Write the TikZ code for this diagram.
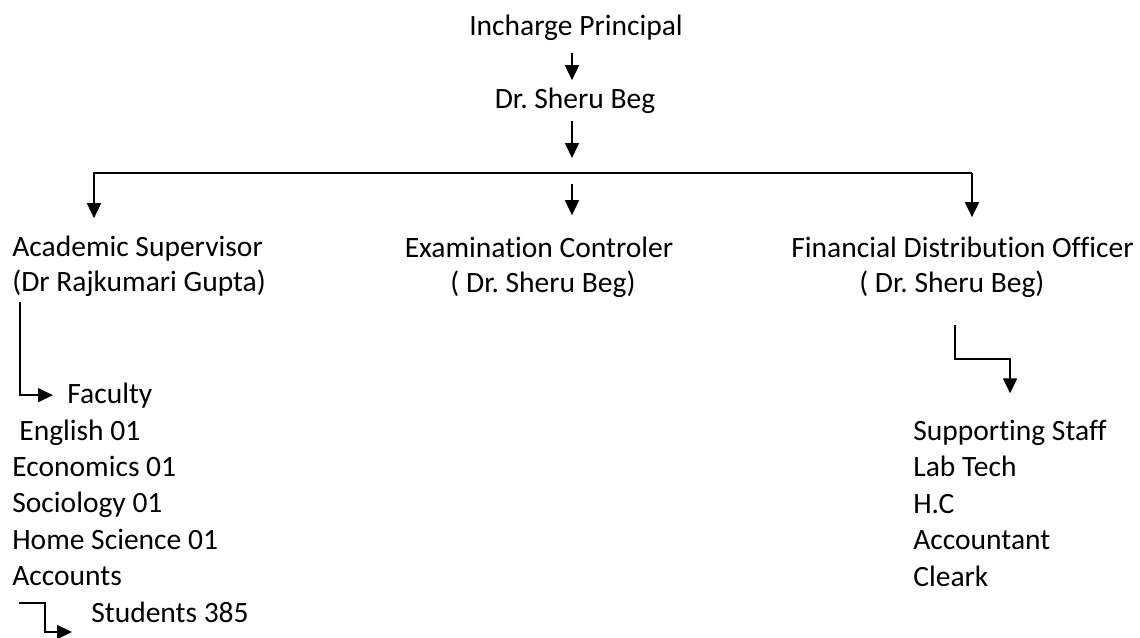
\documentclass[tikz,border=0pt]{standalone}
\usepackage{fontspec}
\setmainfont{Carlito}[Ligatures={NoCommon}]
\usepackage{tikz}
\usetikzlibrary{calc}
\usetikzlibrary{arrows.meta}
\usetikzlibrary{positioning}
\frenchspacing

\tikzset{
lbl/.style={inner sep=0pt, font=\fontsize{16.8}{20.4}\selectfont},
conn/.style={line width=0.85pt},
arr/.style={conn, -{Triangle[length=0.3cm,width=0.28cm]}},
}

\begin{document}
\begin{tikzpicture}[x=0.02cm, y=-0.02cm]
\useasboundingbox (0,0) rectangle (1140,637);

% head of the college
\node[lbl, anchor=base] (top) at (576,35) {Incharge Principal};
\node[lbl, anchor=base] (head) at (575,108) {Dr. Sheru Beg};
\coordinate (spine) at (572,0);
\coordinate (bus) at (572,173);
\coordinate (busL) at (94,173);
\coordinate (busR) at (972,173);

% three offices
\node[lbl, anchor=base west] (acad) at (12,256) {Academic Supervisor};
\node[lbl, anchor=base west] (acadname) at (12,291) {(Dr Rajkumari Gupta)};
\node[lbl, anchor=base] (exam) at (539,257) {Examination Controler};
\node[lbl, anchor=base] (examname) at (543,292) {( Dr. Sheru Beg)};
\node[lbl, anchor=base west] (fin) at (791,257) {Financial Distribution Officer};
\node[lbl, anchor=base west] (finname) at (859,292) {( Dr. Sheru Beg)};

% faculty and students
\node[lbl, anchor=base west] (faculty) at (67,403) {Faculty};
\node[lbl, anchor=base west] (english) at (19,440) {English 01};
\node[lbl, anchor=base west] (economics) at (12,476) {Economics 01};
\node[lbl, anchor=base west] (sociology) at (12,512) {Sociology 01};
\node[lbl, anchor=base west] (homesci) at (12,549) {Home Science 01};
\node[lbl, anchor=base west] (accounts) at (12,585) {Accounts};
\node[lbl, anchor=base west] (students) at (91,622) {Students 385};

% supporting staff
\node[lbl, anchor=base west] (supp) at (913,440) {Supporting Staff};
\node[lbl, anchor=base west] (labtech) at (913,476) {Lab Tech};
\node[lbl, anchor=base west] (hc) at (913,513) {H.C};
\node[lbl, anchor=base west] (accountant) at (913,549) {Accountant};
\node[lbl, anchor=base west] (clerk) at (913,586) {Cleark};

% arrows
\draw[arr, shorten <=0.26cm, shorten >=0.14cm] (top.south -| spine) -- (head.north -| spine);
\draw[arr, shorten <=0.16cm, shorten >=0.3cm] (head.south -| spine) -- (bus);
\draw[arr, shorten >=0.34cm] (busR) -- (busL) -- (acad.north -| busL);
\draw[arr, shorten >=0.38cm] (busR) -- (fin.north -| busR);
\draw[arr, shorten <=0.22cm, shorten >=0.42cm] (bus) -- (exam.north -| bus);

\coordinate (facT) at (20,302);
\draw[arr, shorten >=0.28cm] (facT) |- (faculty.west);
\coordinate (stuT) at (19,603);
\draw[arr] (stuT) -- ++(26,0) -- ++(0,29) -- ++(27,0);
\coordinate (finT) at (955,325);
\draw[arr, shorten >=0.52cm] (finT) -- ++(0,34) -| (supp.north);
\end{tikzpicture}
\end{document}
